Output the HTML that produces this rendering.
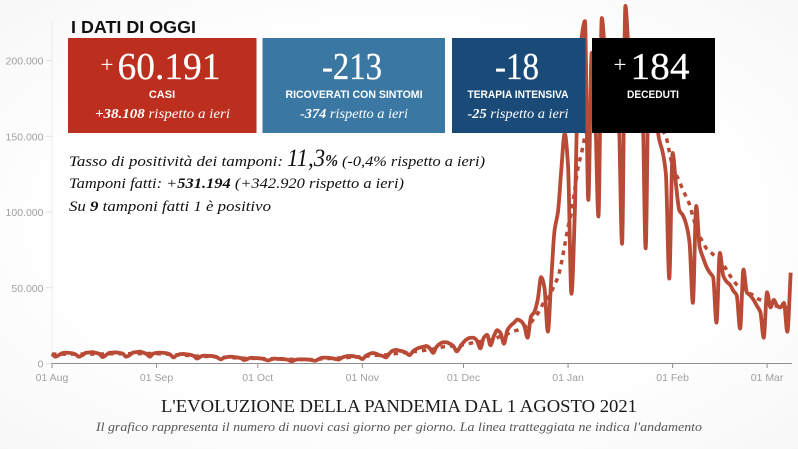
<!DOCTYPE html>
<html lang="it">
<head>
<meta charset="utf-8">
<title>I dati di oggi</title>
<style>
html,body{margin:0;padding:0;width:798px;height:449px;overflow:hidden;background:#fdfdfd}
svg{display:block}
.sans{font-family:"Liberation Sans",sans-serif}
.serif{font-family:"Liberation Serif",serif}
.tick{font-family:"Liberation Sans",sans-serif;font-size:10.5px;fill:#a0a0a0}
.big{font-family:"Liberation Serif",serif;font-size:38.500px;fill:#fff;stroke:#fff;stroke-width:.25px;text-anchor:middle}
.plus{font-family:"Liberation Serif",serif;font-size:23px;fill:#fff;text-anchor:middle}
.lab{font-family:"Liberation Sans",sans-serif;font-weight:bold;font-size:11px;fill:#fff;text-anchor:middle}
.sub{font-family:"Liberation Serif",serif;font-style:italic;font-size:13.5px;fill:#fff;text-anchor:middle}
.note{font-family:"Liberation Serif",serif;font-style:italic;font-size:15px;fill:#111}
</style>
</head>
<body>
<svg id="chart" xmlns="http://www.w3.org/2000/svg" width="798" height="449" viewBox="0 0 798 449">
  <defs>
    <radialGradient id="bg" cx="50%" cy="50%" r="75%">
      <stop offset="55%" stop-color="#ffffff"/>
      <stop offset="100%" stop-color="#f6f6f6"/>
    </radialGradient>
  </defs>
  <rect width="798" height="449" fill="url(#bg)"/>
  <g id="axes"></g>
  <g id="series"></g>

  <text class="sans" x="71" y="33" font-size="17.5px" font-weight="bold" fill="#111" textLength="125" lengthAdjust="spacingAndGlyphs">I DATI DI OGGI</text>

  <g>
    <rect x="68" y="38" width="188.5" height="95" fill="#bc2f1e"/>
    <text class="plus" x="107" y="72">+</text>
    <text class="big" x="169" y="79" textLength="103" lengthAdjust="spacingAndGlyphs">60.191</text>
    <text class="lab" x="162" y="98">CASI</text>
    <text class="sub" x="162.500" y="118" textLength="135" lengthAdjust="spacingAndGlyphs"><tspan font-weight="bold">+38.108</tspan> rispetto a ieri</text>
  </g>
  <g>
    <rect x="262.500" y="38" width="182.500" height="95" fill="#3a78a3"/>
    <text class="big" x="352" y="79" textLength="60" lengthAdjust="spacingAndGlyphs">-213</text>
    <text class="lab" x="354" y="98" textLength="137" lengthAdjust="spacingAndGlyphs">RICOVERATI CON SINTOMI</text>
    <text class="sub" x="354" y="118" textLength="108" lengthAdjust="spacingAndGlyphs"><tspan font-weight="bold">-374</tspan> rispetto a ieri</text>
  </g>
  <g>
    <rect x="452" y="38" width="133.500" height="95" fill="#1a4a78"/>
    <text class="big" x="517" y="79" textLength="44" lengthAdjust="spacingAndGlyphs">-18</text>
    <text class="lab" x="518" y="98" textLength="101" lengthAdjust="spacingAndGlyphs">TERAPIA INTENSIVA</text>
    <text class="sub" x="518" y="118" textLength="101" lengthAdjust="spacingAndGlyphs"><tspan font-weight="bold">-25</tspan> rispetto a ieri</text>
  </g>
  <g>
    <rect x="592" y="38" width="123" height="95" fill="#000"/>
    <text class="plus" x="620" y="72">+</text>
    <text class="big" x="660" y="79" textLength="59" lengthAdjust="spacingAndGlyphs">184</text>
    <text class="lab" x="653" y="98" textLength="52" lengthAdjust="spacingAndGlyphs">DECEDUTI</text>
  </g>

  <text class="note" x="69" y="166" textLength="214" lengthAdjust="spacingAndGlyphs">Tasso di positività dei tamponi:</text>
  <text class="note" x="287" y="166" style="font-size:25px" textLength="51" lengthAdjust="spacingAndGlyphs">11,3<tspan style="font-size:17px;font-weight:bold">%</tspan></text>
  <text class="note" x="342" y="166" textLength="143" lengthAdjust="spacingAndGlyphs">(-0,4% rispetto a ieri)</text>
  <text class="note" x="69" y="188" textLength="335" lengthAdjust="spacingAndGlyphs">Tamponi fatti: +<tspan font-weight="bold">531.194</tspan> (+342.920 rispetto a ieri)</text>
  <text class="note" x="69" y="211" textLength="202" lengthAdjust="spacingAndGlyphs">Su <tspan font-weight="bold">9</tspan> tamponi fatti 1 è positivo</text>

  <text class="serif" x="399" y="412" font-size="17.500px" fill="#1a1a1a" text-anchor="middle" textLength="476" lengthAdjust="spacingAndGlyphs">L'EVOLUZIONE DELLA PANDEMIA DAL 1 AGOSTO 2021</text>
  <text class="serif" x="399" y="431" font-size="13px" font-style="italic" fill="#555" text-anchor="middle" textLength="606" lengthAdjust="spacingAndGlyphs">Il grafico rappresenta il numero di nuovi casi giorno per giorno. La linea tratteggiata ne indica l'andamento</text>
</svg>
<script>
// Values are in thousands of new cases, one per day starting 1 Aug.
const dailyCases = [
6.5,4.5,5.5,6.8,7.2,7,6.8,6,4.5,5.5,
7,7.3,7.5,7,6.4,4.2,5.5,7,7.2,7.3,
7,6.5,4.5,5.5,7.2,7.5,7.8,7.2,6.3,4.5,
6.5,7,7.2,7,6.8,6,4,5.5,6.2,6.3,
6,5.8,5,3.2,4.5,5.2,5,5,4.8,4,
2.8,3.8,4.3,4.5,4.2,4,3.5,2.2,3,3.8,
3.6,3.5,3.3,2.8,2,2.7,3.3,3,3,2.8,
2.4,1.4,2.3,2.7,2.8,2.7,2.6,2.2,1.8,2.8,
3.8,3.9,3.7,3.5,3,2.6,3.9,4.6,5,4.9,
4.5,4.2,2.9,5,6.2,6.9,6.5,5.5,5,4,
6.5,8.5,9,8.5,8,7,5.5,8,9.5,10.5,
11,11.5,10,7,11,13,14,14,13,11.5,
8,11,14,16,17,17,15,10,17,19,
12,18,22,20,13,22,25,27,29,28,
25,17,31,34,42,57,50,21,55,88,
100,128,152,130,46,100,190,215,226,108,
205,170,97,228,205,195,190,180,165,79,
236,205,190,185,180,175,76,205,190,165,
148,140,125,56,139,118,101,98,92,80,
40,104,77,70,64,60,57,27,73,58,
54,52,48,45,23,62,47,45,42,38,
34,17,47,37,42,38,37,40,21,60
];
const trendCases = [
6.2,6.2,6.2,6.2,6.2,6.2,6.2,6.2,6.3,6.3,
6.3,6.3,6.3,6.3,6.3,6.3,6.4,6.4,6.4,6.4,
6.4,6.4,6.4,6.5,6.5,6.5,6.5,6.6,6.6,6.6,
6.6,6.5,6.4,6.3,6.2,6,5.9,5.8,5.6,5.5,
5.4,5.2,5,4.9,4.8,4.7,4.6,4.5,4.4,4.3,
4.2,4.1,4,3.9,3.8,3.7,3.6,3.5,3.5,3.4,
3.4,3.3,3.3,3.2,3.2,3.1,3.1,3,3,2.9,
2.9,2.8,2.7,2.6,2.6,2.5,2.5,2.6,2.7,2.9,
3,3.2,3.3,3.4,3.5,3.6,3.7,3.8,4,4.1,
4.2,4.3,4.5,4.7,5,5.2,5.4,5.5,5.6,5.7,
6,6.3,6.6,6.9,7.1,7.2,7.4,7.7,8,8.3,
8.6,8.9,9.2,9.5,10,10.5,11,11.3,11.5,11.6,
11.7,12,12.4,12.8,13.3,13.8,14.2,14.5,15,15.3,
15.5,16,17,18,18.5,19.5,20.5,21.5,22,23,
24,25,27,30,33,37,41,43,47,52,
57,66,78,90,100,115,130,139,150,158,
165,170,175,180,185,188,190,192,193,192,
192,193,190,188,184,180,175,172,168,162,
158,154,150,140,130,125,120,115,110,105,
97,90,84,80,76,74,72,70,68,65,
62,58,55,52,50,49,47,46,45,43,
42,41,40,39,38,38,37,37,37,38
];
const yTickValues = [0,50,100,150,200];
const yTickLabels = ["0","50.000","100.000","150.000","200.000"];
const xTickDays = [0,31,61,92,122,153,184,212];
const xTickLabels = ["01 Aug","01 Sep","01 Oct","01 Nov","01 Dec","01 Jan","01 Feb","01 Mar"];

const NS = "http://www.w3.org/2000/svg";
const xScale = d => 52 + d * 3.373;
const yScale = v => 363.5 - v * 1.515;

function make(parent, tag, attrs, text) {
  const el = document.createElementNS(NS, tag);
  for (const k in attrs) el.setAttribute(k, attrs[k]);
  if (text !== undefined) el.textContent = text;
  parent.appendChild(el);
  return el;
}

// Monotone cubic path through the daily points.
function linePath(values) {
  const pts = values.map((v, i) => [xScale(i), yScale(v)]);
  const n = pts.length;
  const sl = [];
  for (let i = 0; i < n - 1; i++) sl.push((pts[i + 1][1] - pts[i][1]) / (pts[i + 1][0] - pts[i][0]));
  const m = [sl[0]];
  for (let i = 1; i < n - 1; i++) {
    m.push(sl[i - 1] * sl[i] <= 0 ? 0 : 2 * sl[i - 1] * sl[i] / (sl[i - 1] + sl[i]));
  }
  m.push(sl[n - 2]);
  let d = "M" + pts[0][0].toFixed(2) + " " + pts[0][1].toFixed(2);
  for (let i = 0; i < n - 1; i++) {
    const h = (pts[i + 1][0] - pts[i][0]) / 3;
    d += "C" + (pts[i][0] + h).toFixed(2) + " " + (pts[i][1] + m[i] * h).toFixed(2) + " " +
      (pts[i + 1][0] - h).toFixed(2) + " " + (pts[i + 1][1] - m[i + 1] * h).toFixed(2) + " " +
      pts[i + 1][0].toFixed(2) + " " + pts[i + 1][1].toFixed(2);
  }
  return d;
}

const axes = document.getElementById("axes");
const series = document.getElementById("series");

const yAxisLine = make(axes, "line", {x1: 52, x2: 52, y1: 20, y2: 363.5, stroke: "#ececec", "stroke-width": 1});



yTickValues.forEach((v, i) => {
  const tick = make(axes, "line", {x1: 46, x2: 52, y1: yScale(v), y2: yScale(v), stroke: "#e2e2e2", "stroke-width": 1});
  
  
  const label = make(axes, "text", {x: 43.5, y: yScale(v) + 4, "text-anchor": "end", class: "tick"}, yTickLabels[i]);
  
  
});

const xAxisLine = make(axes, "line", {x1: 52, x2: 792, y1: 363.5, y2: 363.5, stroke: "#8f8f8f", "stroke-width": 1});



xTickDays.forEach((d, i) => {
  const tick = make(axes, "line", {x1: xScale(d), x2: xScale(d), y1: 363.5, y2: 368, stroke: "#8f8f8f", "stroke-width": 1});
  
  
  const label = make(axes, "text", {x: xScale(d), y: 381, "text-anchor": "middle", class: "tick"}, xTickLabels[i]);
  
  
});

const trendLine = make(series, "path", {d: linePath(trendCases), fill: "none", stroke: "#b94a35", "stroke-width": 3.5, "stroke-dasharray": "4.5 5"});



const casesLine = make(series, "path", {d: linePath(dailyCases), fill: "none", stroke: "#b94a35", "stroke-width": 3.8, "stroke-linejoin": "round", "stroke-linecap": "butt"});


</script>
</body>
</html>
